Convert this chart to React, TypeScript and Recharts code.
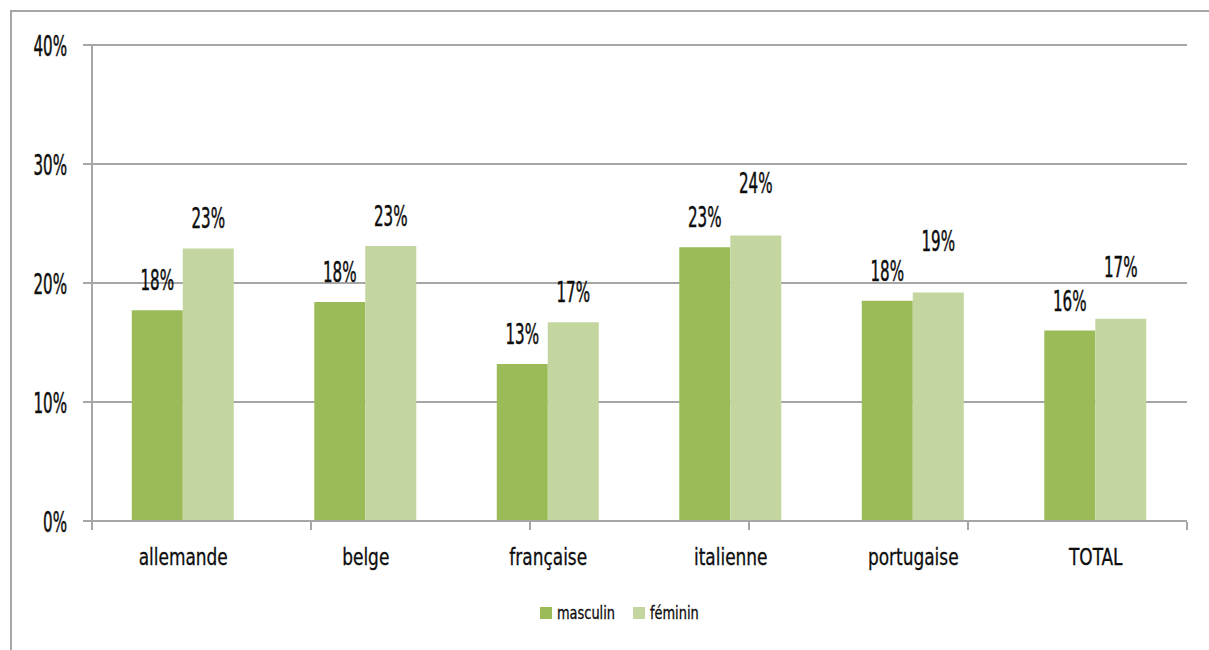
import React from 'react';
import { BarChart, Bar, XAxis, YAxis, CartesianGrid, Legend } from 'recharts';

const categories = ['allemande', 'belge', 'française', 'italienne', 'portugaise', 'TOTAL'];
const masculin = [17.7, 18.4, 13.2, 23.0, 18.5, 16.0];
const feminin = [22.9, 23.1, 16.7, 24.0, 19.2, 17.0];
const yTicks = [0, 10, 20, 30, 40];
const labelMasculin = ['18%', '18%', '13%', '23%', '18%', '16%'];
const labelFeminin = ['23%', '23%', '17%', '24%', '19%', '17%'];

const data = categories.map((c, i) => ({
  name: c,
  masculin: masculin[i],
  feminin: feminin[i],
}));

const FONT = "'DejaVu Sans Condensed', 'DejaVu Sans', sans-serif";
const GRAY = '#a6a6a6';
const C_M = '#9BBB59';
const C_F = '#C4D6A0';
const INK = '#0d0d0d';

const YTick = (props: any) => {
  const { x, y, payload } = props;
  return (
    <text
      transform={`translate(${x},${y + 10.5}) scale(0.7,1.17)`}
      textAnchor="end"
      fontFamily={FONT}
      fontSize={24}
      fill={INK}
      stroke={INK}
      strokeWidth={0.4}
    >
      {`${payload.value}%`}
    </text>
  );
};

const XTick = (props: any) => {
  const { x, payload } = props;
  return (
    <text
      transform={`translate(${x},565) scale(0.82,1)`}
      textAnchor="middle"
      fontFamily={FONT}
      fontSize={23}
      fill={INK}
      stroke={INK}
      strokeWidth={0.3}
    >
      {payload.value}
    </text>
  );
};

const EmptyTick = () => <g />;

// Excel moves a label upward when it would collide with its neighbour's label
const makeLabel = (labels: string[], isFem: boolean) => (props: any) => {
  const { x, y, width, index } = props;
  const close = Math.abs(feminin[index] - masculin[index]) < 2.5;
  const lift = isFem && close ? 42 : 20;
  return (
    <text
      transform={`translate(${x + width / 2},${y - lift}) scale(0.7,1.17)`}
      textAnchor="middle"
      fontFamily={FONT}
      fontSize={24}
      fill={INK}
      stroke={INK}
      strokeWidth={0.4}
    >
      {labels[index]}
    </text>
  );
};

const LegendContent = () => (
  <svg width={1209} height={20} style={{ display: 'block' }}>
    <rect x={540} y={4} width={12} height={12} fill={C_M} />
    <text transform="translate(557,16) scale(0.8,1)" fontFamily={FONT} fontSize={18} fill={INK} stroke={INK} strokeWidth={0.3}>
      masculin
    </text>
    <rect x={633} y={4} width={12} height={12} fill={C_F} />
    <text transform="translate(650,16) scale(0.8,1)" fontFamily={FONT} fontSize={18} fill={INK} stroke={INK} strokeWidth={0.3}>
      féminin
    </text>
  </svg>
);

export default function App() {
  return (
    <div style={{ position: 'fixed', left: 0, top: 0, width: 1209, height: 650, background: '#fff', overflow: 'hidden' }}>
      <div
        style={{
          position: 'absolute',
          left: 10,
          top: 10,
          width: 1300,
          height: 800,
          borderLeft: `2px solid ${GRAY}`,
          borderTop: `2px solid ${GRAY}`,
        }}
      />
      <div style={{ position: 'absolute', left: 0, top: 0 }}>
        <BarChart
          width={1209}
          height={650}
          data={data}
          margin={{ top: 45, right: 22, bottom: 69, left: 12 }}
          barCategoryGap="21.8%"
          barGap={0}
        >
          <CartesianGrid vertical={false} stroke={GRAY} strokeWidth={2} />
          <XAxis
            dataKey="name"
            tick={<XTick />}
            tickLine={false}
            axisLine={{ stroke: GRAY, strokeWidth: 2 }}
            height={1}
            interval={0}
          />
          <XAxis
            xAxisId="edges"
            type="number"
            domain={[0, 6]}
            ticks={[0, 1, 2, 3, 4, 5, 6]}
            tick={<EmptyTick />}
            tickLine={{ stroke: GRAY, strokeWidth: 2 }}
            tickSize={8}
            axisLine={false}
            height={39}
            allowDataOverflow
          />
          <YAxis
            domain={[0, 40]}
            ticks={yTicks}
            tick={<YTick />}
            tickLine={{ stroke: GRAY, strokeWidth: 2 }}
            tickSize={9}
            tickMargin={16}
            axisLine={{ stroke: GRAY, strokeWidth: 2 }}
            width={80}
          />
          <Legend content={<LegendContent />} verticalAlign="bottom" wrapperStyle={{ top: 603, left: 0, width: 1209, height: 20 }} />
          <Bar dataKey="masculin" fill={C_M} isAnimationActive={false} label={makeLabel(labelMasculin, false)} />
          <Bar dataKey="feminin" fill={C_F} isAnimationActive={false} label={makeLabel(labelFeminin, true)} />
        </BarChart>
      </div>
    </div>
  );
}
